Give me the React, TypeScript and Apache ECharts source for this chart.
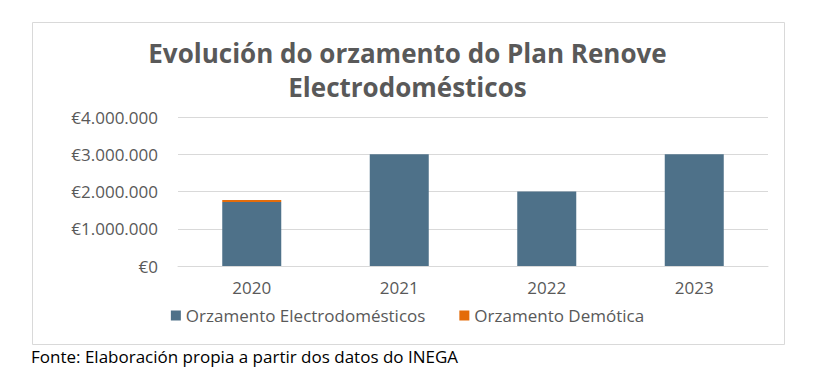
import React, { useEffect, useRef } from "react";
import * as echarts from "echarts";

const categories = ["2020", "2021", "2022", "2023"];
const electro = [1720000, 3000000, 2000000, 3000000];
const domotica = [50000, 0, 0, 0];
const seriesNames = ["Orzamento Electrodomésticos", "Orzamento Demótica"];
const titleText = "Evolución do orzamento do Plan Renove\nElectrodomésticos";
const footerText = "Fonte: Elaboración propia a partir dos datos do INEGA";

const fmt = (v: number) => "€" + Math.round(v).toString().replace(/\B(?=(\d{3})+(?!\d))/g, ".");

export default function App() {
  const ref = useRef<HTMLDivElement>(null);
  useEffect(() => {
    const chart = echarts.init(ref.current!, null, { renderer: "svg" });
    const font = "'Open Sans', sans-serif";
    chart.setOption({
      animation: false,
      backgroundColor: "#ffffff",
      title: {
        text: titleText,
        left: "center",
        top: 31,
        textStyle: { fontFamily: font, fontWeight: "bold", fontSize: 26, color: "#595959", lineHeight: 34 },
      },
      grid: { left: 178, right: 47, top: 117, bottom: 115 },
      xAxis: {
        type: "category",
        data: categories,
        axisLine: { lineStyle: { color: "#d9d9d9" } },
        axisTick: { show: false },
        axisLabel: { color: "#595959", fontSize: 17, fontFamily: font, margin: 13 },
      },
      yAxis: {
        type: "value",
        min: 0,
        max: 4000000,
        interval: 1000000,
        axisLine: { show: false },
        axisTick: { show: false },
        splitLine: { lineStyle: { color: "#d9d9d9" } },
        axisLabel: { color: "#595959", fontSize: 17, fontFamily: font, margin: 20, formatter: fmt },
      },
      legend: {
        bottom: 52,
        left: "center",
        itemWidth: 10,
        itemHeight: 10,
        itemGap: 34,
        icon: "rect",
        textStyle: { color: "#595959", fontSize: 17, fontFamily: font },
        data: seriesNames,
      },
      series: [
        { name: seriesNames[0], type: "bar", stack: "a", data: electro, barWidth: "40%", itemStyle: { color: "#4e7189" } },
        { name: seriesNames[1], type: "bar", stack: "a", data: domotica, barWidth: "40%", itemStyle: { color: "#e46c0a" } },
      ],
      graphic: [
        { type: "rect", shape: { x: 32.5, y: 22.5, width: 752, height: 322 }, style: { fill: "none", stroke: "#d9d9d9", lineWidth: 1 }, z: -1 },
        { type: "text", left: 31, top: 348, style: { text: footerText, fill: "#000000", font: "17px " + font } },
      ],
    });
    return () => chart.dispose();
  }, []);
  return <div ref={ref} style={{ position: "absolute", left: 0, top: 0, width: 815, height: 381 }} />;
}
